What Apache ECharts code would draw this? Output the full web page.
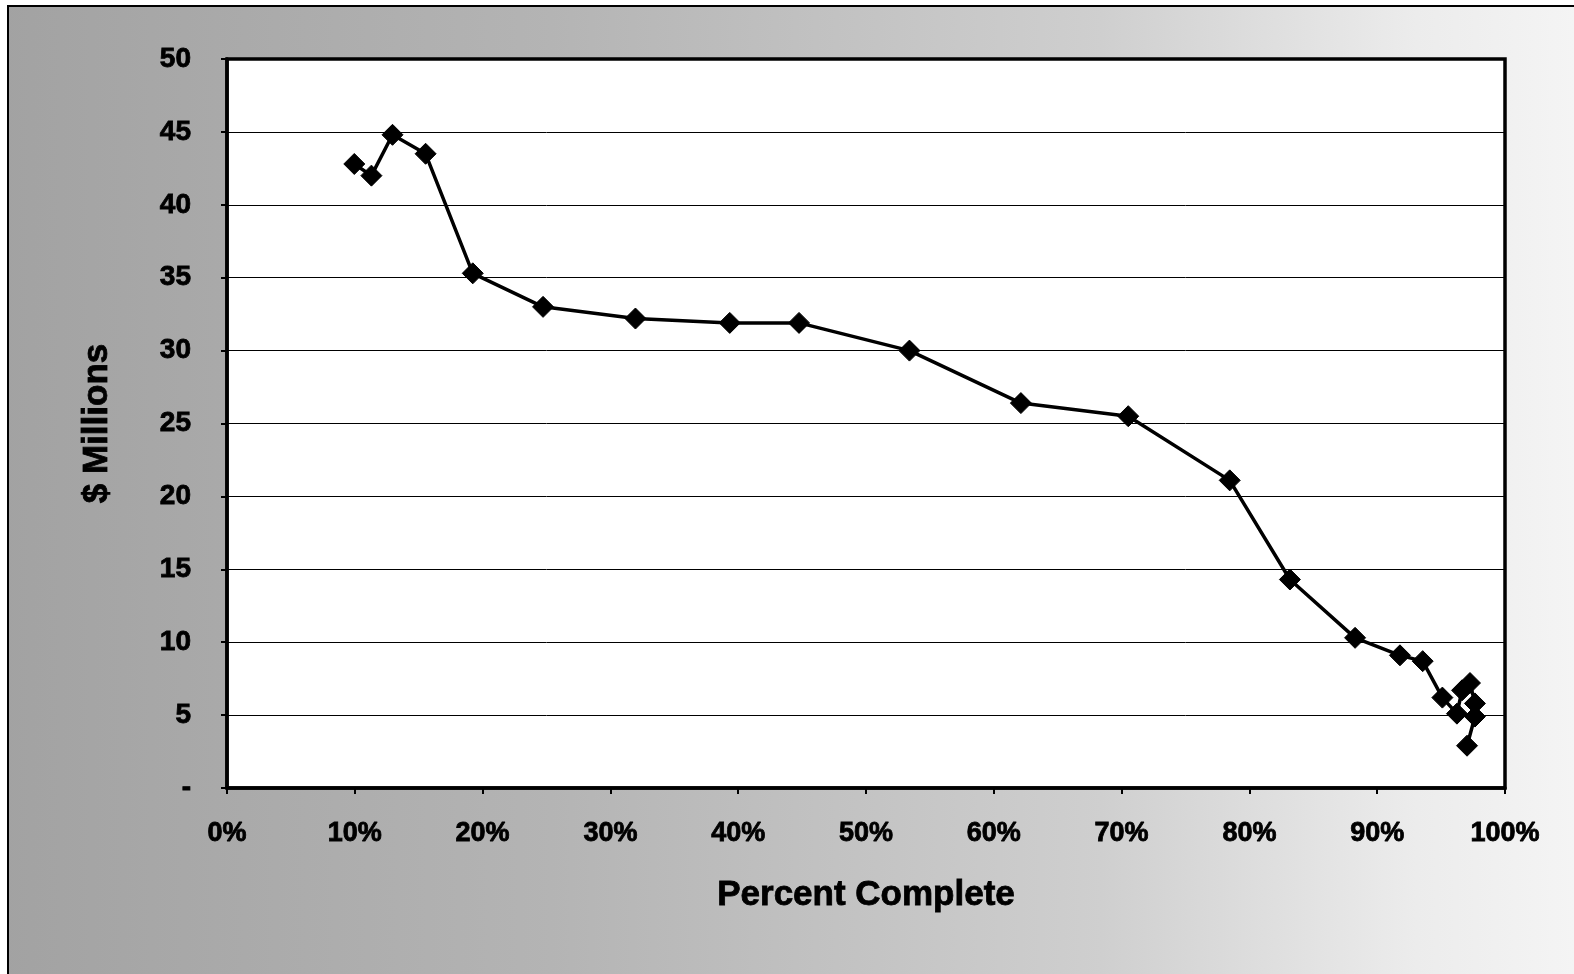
<!DOCTYPE html>
<html><head><meta charset="utf-8">
<script src="https://cdn.jsdelivr.net/npm/echarts@6/dist/echarts.min.js"></script>
<style>html,body{margin:0;padding:0;}#c{width:1574px;height:974px;}</style>
</head><body><div id="c"></div>
<script>
var percentComplete = [9.96, 11.3, 12.95, 15.54, 19.23, 24.73, 31.96, 39.34, 44.76, 53.4, 62.12, 70.52, 78.46, 83.17, 88.27, 91.78, 93.56, 95.1, 96.24, 96.64, 97.26, 97.65, 97.65, 97.03];
var millions = [42.8, 42.0, 44.8, 43.5, 35.3, 33.0, 32.2, 31.9, 31.9, 30.0, 26.4, 25.5, 21.1, 14.3, 10.3, 9.1, 8.7, 6.2, 5.1, 6.7, 7.2, 5.8, 4.9, 2.9];
var xTitle = 'Percent Complete';
var yTitle = '$ Millions';

var pts = percentComplete.map(function(x, i){ return [x, millions[i]]; });
var chart = echarts.init(document.getElementById('c'));
var F = '"Liberation Sans", Arial, sans-serif';
var heavy = {textBorderColor: '#000', textBorderWidth: 0.8};
chart.setOption({
  backgroundColor: new echarts.graphic.LinearGradient(0, 0, 1, 0, [
    {offset: 0, color: '#a2a2a2'},
    {offset: 0.35, color: '#b4b4b4'},
    {offset: 0.7, color: '#cfcfcf'},
    {offset: 0.9, color: '#ececec'},
    {offset: 1, color: '#f4f4f4'}
  ]),
  animation: false,
  grid: {left: 227, right: 69, top: 59, bottom: 186, show: true, backgroundColor: '#ffffff', borderColor: '#000', borderWidth: 3.5},
  xAxis: {
    type: 'value', min: 0, max: 100, interval: 10,
    axisLine: {show: true, onZero: false, lineStyle: {color: '#000', width: 3.5}},
    axisTick: {show: true, inside: false, length: 6, lineStyle: {color: '#000', width: 2}},
    splitLine: {show: false},
    axisLabel: Object.assign({formatter: '{value}%', color: '#000', fontFamily: F, fontWeight: 'bold', fontSize: 27, margin: 32}, heavy),
    name: xTitle, nameLocation: 'middle', nameGap: 90,
    nameTextStyle: Object.assign({color: '#000', fontFamily: F, fontWeight: 'bold', fontSize: 35}, heavy)
  },
  yAxis: {
    type: 'value', min: 0, max: 50, interval: 5,
    axisLine: {show: true, lineStyle: {color: '#000', width: 3.5}},
    axisTick: {show: true, inside: false, length: 6, lineStyle: {color: '#000', width: 2}},
    splitLine: {show: true, lineStyle: {color: '#000', width: 1}},
    axisLabel: Object.assign({formatter: function(v){ return v === 0 ? '-' : String(v); }, color: '#000', fontFamily: F, fontWeight: 'bold', fontSize: 28, margin: 36}, heavy),
    name: yTitle, nameLocation: 'middle', nameGap: 112, nameRotate: 90,
    nameTextStyle: Object.assign({color: '#000', fontFamily: F, fontWeight: 'bold', fontSize: 35}, heavy)
  },
  series: [{
    type: 'line', data: pts, symbol: 'diamond', symbolSize: 21,
    lineStyle: {color: '#000', width: 3.5},
    itemStyle: {color: '#000', borderColor: '#000'},
    emphasis: {disabled: true}
  }],
  graphic: [
    {type: 'rect', shape: {x: 0, y: 0, width: 7, height: 974}, style: {fill: '#ffffff'}},
    {type: 'rect', shape: {x: 0, y: 0, width: 1574, height: 5}, style: {fill: '#ffffff'}},
    {type: 'line', shape: {x1: 8, y1: 5, x2: 8, y2: 974}, style: {stroke: '#000', lineWidth: 2}},
    {type: 'line', shape: {x1: 7, y1: 6, x2: 1574, y2: 6}, style: {stroke: '#000', lineWidth: 2}}
  ]
});
</script></body></html>
